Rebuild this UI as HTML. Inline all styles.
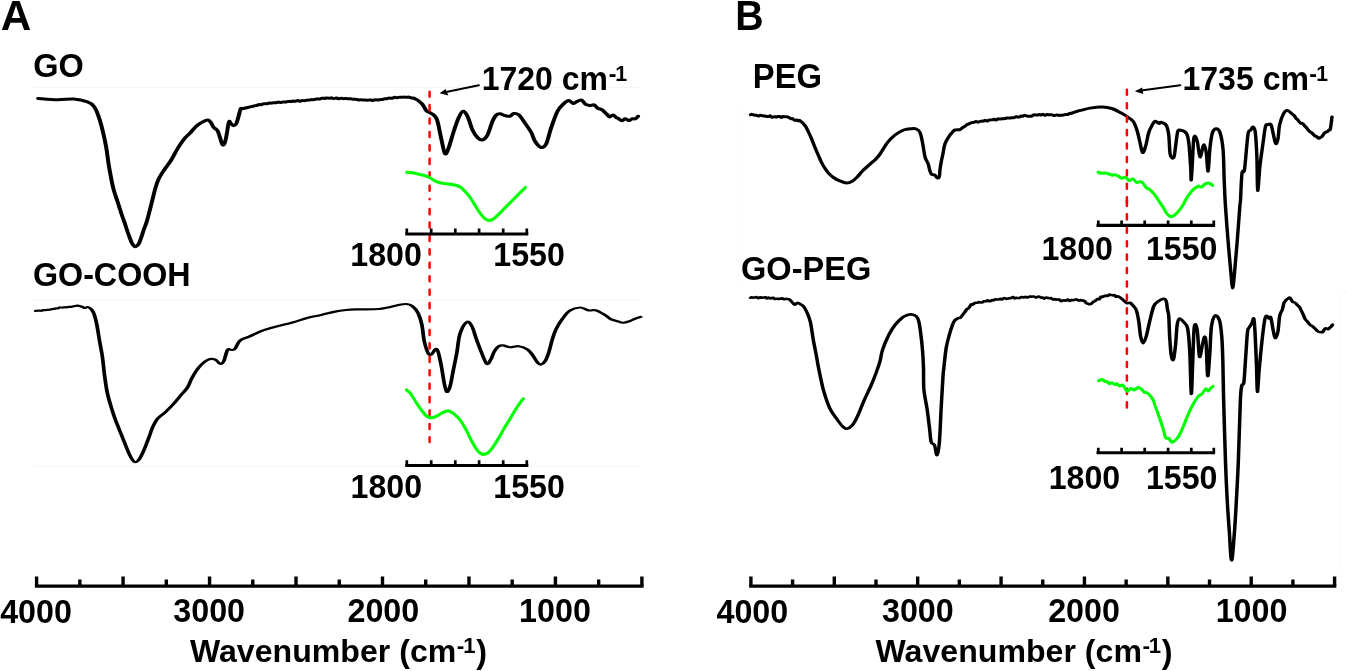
<!DOCTYPE html>
<html><head><meta charset="utf-8"><title>FTIR spectra</title>
<style>html,body{margin:0;padding:0;background:#fff;}body{width:1347px;height:671px;overflow:hidden;}svg{display:block;}</style></head><body>
<svg width="1347" height="671" viewBox="0 0 1347 671">
<rect width="1347" height="671" fill="#fff"/>
<line x1="35" y1="87.5" x2="641" y2="87.5" stroke="#f6f6f6" stroke-width="1"/>
<line x1="33" y1="300.3" x2="641" y2="300.3" stroke="#f6f6f6" stroke-width="1"/>
<line x1="33" y1="466.1" x2="641.6" y2="466.1" stroke="#f6f6f6" stroke-width="1"/>
<line x1="741.7" y1="100" x2="741.7" y2="287.6" stroke="#fbfbfb" stroke-width="1"/>
<line x1="1340.6" y1="291.9" x2="1340.6" y2="572.6" stroke="#f9f9f9" stroke-width="1"/>
<line x1="1340.6" y1="291.9" x2="1347" y2="291.9" stroke="#f9f9f9" stroke-width="1"/>
<path d="M34.9,586.1L643.6,586.1" stroke="#000" stroke-width="3.2" fill="none" stroke-linecap="butt"/>
<path d="M36.6,586.1V576.6M79.84,586.1V579.4M123.07,586.1V576.6M166.31,586.1V579.4M209.54,586.1V576.6M252.78,586.1V579.4M296.01,586.1V576.6M339.25,586.1V579.4M382.49,586.1V576.6M425.72,586.1V579.4M468.96,586.1V576.6M512.19,586.1V579.4M555.43,586.1V576.6M598.66,586.1V579.4M641.9,586.1V576.6" stroke="#000" stroke-width="3.4" fill="none"/>
<path d="M749.2,586.1L1336.3,586.1" stroke="#000" stroke-width="3.2" fill="none" stroke-linecap="butt"/>
<path d="M750.9,586.1V576.6M792.59,586.1V579.4M834.29,586.1V576.6M875.98,586.1V579.4M917.67,586.1V576.6M959.36,586.1V579.4M1001.06,586.1V576.6M1042.75,586.1V579.4M1084.44,586.1V576.6M1126.14,586.1V579.4M1167.83,586.1V576.6M1209.52,586.1V579.4M1251.21,586.1V576.6M1292.91,586.1V579.4M1334.6,586.1V576.6" stroke="#000" stroke-width="3.4" fill="none"/>
<path transform="scale(1.33,1)" d="M28.65,98.5C31.08,98.71 38.77,99.67 43.23,99.75C47.7,99.83 51.69,98.64 55.45,99C59.21,99.36 63.28,100.69 65.79,101.9C68.3,103.11 69.16,104.07 70.49,106.25C71.82,108.43 72.66,111.04 73.76,115C74.86,118.96 76.05,124.58 77.07,130C78.09,135.42 79.1,141.67 79.89,147.5C80.67,153.33 80.91,158.33 81.77,165C82.63,171.67 83.94,181.42 85.04,187.5C86.13,193.58 87.29,197.08 88.35,201.5C89.4,205.92 90.48,210.52 91.35,214C92.23,217.48 92.88,219.57 93.61,222.4C94.34,225.23 95.08,228.52 95.71,231C96.35,233.48 96.9,235.38 97.44,237.3C97.98,239.22 98.46,241.13 98.95,242.5C99.44,243.87 99.92,244.78 100.38,245.5C100.83,246.22 101.19,246.78 101.65,246.8C102.12,246.82 102.68,246.2 103.16,245.6C103.63,245 104,244.58 104.51,243.2C105.03,241.82 105.61,239.67 106.24,237.3C106.87,234.93 107.62,231.48 108.27,229C108.92,226.52 109.45,225.4 110.15,222.4C110.85,219.4 111.73,214.82 112.48,211C113.23,207.18 113.95,203.25 114.66,199.5C115.38,195.75 115.98,191.96 116.77,188.5C117.55,185.04 118.15,182.04 119.36,178.75C120.58,175.46 122.49,171.88 124.06,168.75C125.63,165.62 127.19,163.33 128.76,160C130.33,156.67 131.89,152.18 133.46,148.75C135.03,145.32 136.59,142.01 138.16,139.4C139.72,136.79 141.29,135.29 142.86,133.1C144.42,130.91 145.99,128.12 147.56,126.25C149.12,124.38 150.77,122.94 152.26,121.9C153.74,120.86 155.37,119.8 156.47,120C157.56,120.2 158.13,121.85 158.83,123.1C159.54,124.35 159.93,126.25 160.71,127.5C161.5,128.75 162.75,128.93 163.53,130.6C164.32,132.27 164.76,135.1 165.41,137.5C166.07,139.9 166.78,144.58 167.48,145C168.18,145.42 168.87,143.75 169.62,140C170.38,136.25 171.37,125.32 171.99,122.5C172.62,119.68 172.84,122.58 173.38,123.1C173.93,123.62 174.56,125.49 175.26,125.6C175.97,125.71 176.92,125.42 177.63,123.75C178.34,122.08 178.97,118.1 179.51,115.6C180.06,113.1 180.43,109.89 180.9,108.75C181.37,107.61 181.15,109.06 182.33,108.75C183.51,108.44 186.87,107.25 187.97,106.9C189.07,106.55 188.61,106.78 188.96,106.68C189.31,106.58 189.67,106.43 190.04,106.29C190.42,106.16 190.81,105.98 191.21,105.86C191.61,105.75 192.02,105.73 192.44,105.6C192.86,105.48 193.29,105.29 193.73,105.12C194.17,104.94 194.62,104.62 195.07,104.54C195.52,104.47 195.98,104.79 196.44,104.69C196.91,104.59 197.37,104.09 197.84,103.94C198.31,103.78 198.82,103.77 199.25,103.75C199.68,103.73 200.03,103.89 200.42,103.82C200.82,103.75 201.23,103.46 201.64,103.32C202.05,103.17 202.47,102.98 202.89,102.94C203.31,102.91 203.74,103.18 204.17,103.13C204.6,103.08 205.03,102.7 205.47,102.64C205.9,102.58 206.34,102.77 206.78,102.76C207.22,102.74 207.66,102.69 208.1,102.56C208.54,102.43 208.98,101.97 209.42,101.97C209.87,101.96 210.31,102.49 210.74,102.52C211.18,102.54 211.62,102.22 212.05,102.11C212.49,102.01 212.91,101.91 213.35,101.9C213.78,101.89 214.21,102.1 214.65,102.06C215.08,102.01 215.53,101.76 215.97,101.64C216.42,101.52 216.87,101.36 217.32,101.35C217.77,101.33 218.22,101.59 218.67,101.55C219.12,101.5 219.57,101.11 220.02,101.07C220.47,101.03 220.91,101.32 221.35,101.33C221.79,101.34 222.23,101.26 222.66,101.13C223.09,101 223.52,100.52 223.94,100.52C224.35,100.52 224.77,101.08 225.17,101.13C225.57,101.19 225.96,100.96 226.34,100.87C226.72,100.79 226.99,100.64 227.44,100.6C227.89,100.56 228.53,100.7 229.04,100.64C229.55,100.58 230.03,100.35 230.5,100.24C230.97,100.13 231.41,100.01 231.85,99.99C232.29,99.96 232.71,100.15 233.13,100.07C233.55,99.99 233.95,99.55 234.36,99.5C234.77,99.44 235.18,99.76 235.59,99.74C236,99.72 236.43,99.55 236.84,99.4C237.26,99.25 237.68,98.94 238.08,98.87C238.49,98.8 238.88,98.96 239.27,98.99C239.66,99.03 240.05,99.15 240.43,99.06C240.82,98.98 241.2,98.66 241.59,98.49C241.98,98.32 242.37,98.05 242.77,98.05C243.18,98.04 243.58,98.46 244,98.46C244.42,98.47 244.88,98.17 245.3,98.1C245.72,98.03 246.1,98.01 246.52,98.03C246.94,98.05 247.38,98.25 247.82,98.22C248.26,98.19 248.71,97.8 249.16,97.85C249.62,97.89 250.07,98.38 250.53,98.46C250.98,98.55 251.44,98.44 251.89,98.36C252.33,98.27 252.78,97.88 253.21,97.95C253.64,98.02 254.06,98.69 254.47,98.78C254.87,98.87 255.21,98.59 255.64,98.5C256.07,98.41 256.59,98.2 257.03,98.24C257.47,98.28 257.88,98.69 258.28,98.74C258.69,98.8 259.07,98.57 259.46,98.54C259.85,98.52 260.22,98.57 260.62,98.6C261.01,98.63 261.41,98.7 261.83,98.72C262.25,98.75 262.73,98.73 263.16,98.75C263.58,98.77 263.97,98.75 264.39,98.85C264.8,98.95 265.22,99.29 265.65,99.33C266.08,99.38 266.51,99.14 266.96,99.14C267.4,99.14 267.84,99.18 268.3,99.32C268.75,99.46 269.21,99.91 269.68,99.99C270.15,100.06 270.62,99.75 271.1,99.75C271.58,99.76 272.11,99.94 272.56,100C273,100.06 273.34,100.1 273.75,100.12C274.16,100.14 274.58,100.07 275.01,100.09C275.44,100.11 275.88,100.24 276.32,100.23C276.76,100.23 277.2,100.07 277.65,100.05C278.09,100.03 278.54,100.04 278.98,100.1C279.42,100.17 279.86,100.46 280.28,100.44C280.71,100.42 281.14,100.11 281.54,100C281.95,99.88 282.35,99.77 282.74,99.77C283.12,99.77 283.41,99.99 283.83,100C284.26,100.01 284.83,99.91 285.28,99.81C285.74,99.71 286.15,99.45 286.55,99.4C286.95,99.35 287.33,99.61 287.71,99.52C288.09,99.43 288.46,99 288.85,98.88C289.23,98.77 289.62,98.91 290.03,98.85C290.45,98.79 290.92,98.65 291.35,98.5C291.78,98.35 292.18,98.02 292.61,97.98C293.05,97.94 293.5,98.25 293.96,98.26C294.41,98.27 294.88,98.2 295.35,98.04C295.82,97.87 296.29,97.34 296.76,97.29C297.22,97.24 297.69,97.72 298.15,97.74C298.6,97.75 299.06,97.46 299.49,97.38C299.93,97.3 300.31,97.26 300.75,97.25C301.19,97.24 301.68,97.37 302.14,97.32C302.59,97.27 303.03,96.95 303.47,96.95C303.9,96.94 304.33,97.23 304.75,97.29C305.16,97.36 305.57,97.37 305.97,97.32C306.37,97.28 306.77,96.98 307.15,97.01C307.53,97.04 307.82,97.32 308.27,97.5C308.72,97.68 309.35,98.01 309.86,98.12C310.37,98.23 310.86,97.94 311.33,98.15C311.8,98.36 312.25,99.07 312.68,99.37C313.11,99.68 313.08,99.16 313.91,100C314.74,100.84 316.57,102.63 317.67,104.4C318.77,106.17 319.55,109.21 320.49,110.6C321.43,111.99 322.29,111.92 323.31,112.75C324.33,113.58 325.68,114.18 326.62,115.6C327.56,117.02 328.09,117.39 328.95,121.25C329.81,125.11 330.83,133.33 331.77,138.75C332.71,144.17 333.65,152.29 334.59,153.75C335.53,155.21 336.31,151.25 337.41,147.5C338.5,143.75 339.91,136.25 341.17,131.25C342.42,126.25 343.75,120.83 344.92,117.5C346.1,114.17 347.1,111.46 348.2,111.25C349.29,111.04 350.33,113.12 351.5,116.25C352.68,119.38 354.01,126.46 355.26,130C356.52,133.54 357.77,135.83 359.02,137.5C360.28,139.17 361.53,140.42 362.78,140C364.04,139.58 365.29,138.12 366.54,135C367.79,131.88 369.2,124.58 370.3,121.25C371.4,117.92 372.18,116.25 373.12,115C374.06,113.75 374.84,113.65 375.94,113.75C377.04,113.85 378.45,115.18 379.7,115.6C380.95,116.02 382.36,116.6 383.46,116.25C384.56,115.9 385.18,113.75 386.28,113.5C387.37,113.25 388.78,113.46 390.04,114.75C391.29,116.04 392.23,118.29 393.8,121.25C395.36,124.21 398.03,129.17 399.44,132.5C400.85,135.83 401,138.75 402.26,141.25C403.51,143.75 405.55,147.08 406.95,147.5C408.36,147.92 409.46,147.08 410.71,143.75C411.97,140.42 413.06,132.92 414.47,127.5C415.88,122.08 417.61,115.21 419.17,111.25C420.74,107.29 422.46,105.53 423.87,103.75C425.28,101.97 426.46,100.64 427.63,100.6C428.8,100.56 429.96,103.28 430.9,103.5C431.84,103.72 432.25,102.48 433.27,101.9C434.29,101.32 435.93,99.69 437.03,100C438.13,100.31 439.18,102.95 439.85,103.75C440.52,104.55 440.63,104.54 441.05,104.78C441.47,105.02 441.93,105.03 442.35,105.16C442.78,105.3 443.11,105.63 443.61,105.6C444.11,105.57 444.8,105.07 445.35,104.97C445.9,104.87 446.27,104.48 446.92,105C447.57,105.52 448.63,107.46 449.25,108.1C449.87,108.74 450.16,108.61 450.63,108.83C451.1,109.05 451.6,109.11 452.07,109.4C452.53,109.69 452.95,110.04 453.42,110.55C453.89,111.07 454.44,111.92 454.89,112.5C455.34,113.08 455.69,113.43 456.12,114.01C456.55,114.59 457.04,115.48 457.46,115.96C457.88,116.44 458.06,117.06 458.65,116.9C459.23,116.74 460.19,114.9 460.98,115C461.76,115.1 462.7,116.93 463.35,117.5C463.99,118.07 464.3,117.98 464.84,118.41C465.39,118.84 466.07,119.72 466.6,120.08C467.13,120.45 467.49,120.82 468.05,120.6C468.6,120.38 469.39,118.94 469.92,118.75C470.46,118.56 470.81,119.18 471.28,119.48C471.75,119.79 472.26,120.57 472.74,120.6C473.23,120.63 473.71,119.98 474.18,119.67C474.65,119.36 474.95,118.9 475.56,118.75C476.18,118.6 477.19,119.17 477.89,118.75C478.6,118.33 479.46,116.67 479.77,116.25" stroke="#000" stroke-width="3" fill="none" stroke-linejoin="round" stroke-linecap="round"/>
<path transform="scale(1.7,1)" d="M20.94,310.9C21.04,310.9 21.31,310.92 21.54,310.88C21.77,310.84 22.05,310.74 22.34,310.68C22.63,310.63 22.96,310.56 23.29,310.57C23.63,310.58 23.99,310.86 24.35,310.76C24.71,310.67 25.09,310.09 25.46,310C25.84,309.9 26.22,310.22 26.59,310.21C26.96,310.2 27.33,310.02 27.67,309.94C28.02,309.86 28.33,309.83 28.68,309.75C29.02,309.67 29.4,309.58 29.76,309.45C30.12,309.32 30.49,309.06 30.85,308.97C31.21,308.88 31.57,309.01 31.93,308.9C32.29,308.79 32.65,308.42 33,308.32C33.35,308.22 33.7,308.45 34.05,308.32C34.39,308.18 34.73,307.64 35.06,307.5C35.39,307.37 35.69,307.5 36.03,307.5C36.37,307.5 36.76,307.59 37.12,307.52C37.49,307.45 37.84,307.09 38.19,307.07C38.54,307.04 38.89,307.42 39.22,307.38C39.56,307.34 39.88,306.89 40.19,306.82C40.51,306.74 40.81,306.91 41.1,306.93C41.38,306.94 41.55,307.01 41.91,306.9C42.27,306.79 42.84,306.4 43.24,306.26C43.63,306.13 43.95,306.19 44.28,306.08C44.61,305.97 44.85,305.62 45.24,305.6C45.62,305.58 46.16,305.83 46.58,305.98C47.01,306.13 47.4,306.27 47.79,306.5C48.19,306.73 48.58,307.12 48.94,307.35C49.31,307.59 49.52,307.94 50,307.9C50.48,307.86 51.15,306.75 51.82,307.1C52.5,307.45 53.44,308.68 54.06,310C54.68,311.32 55.04,312.5 55.53,315C56.02,317.5 56.51,320.83 57,325C57.49,329.17 57.92,334.58 58.47,340C59.02,345.42 59.79,351.67 60.29,357.5C60.79,363.33 60.98,368.96 61.47,375C61.96,381.04 62.45,387.71 63.24,393.75C64.02,399.79 65.39,406.88 66.18,411.25C66.96,415.62 67.04,415.96 67.94,420C68.84,424.04 70.37,430.33 71.59,435.5C72.8,440.67 74.25,447.12 75.24,451C76.23,454.88 76.8,456.93 77.53,458.8C78.25,460.67 78.83,462.2 79.59,462.2C80.34,462.2 81.19,460.92 82.06,458.8C82.93,456.68 83.83,453.38 84.82,449.5C85.81,445.62 87.19,439.17 88,435.5C88.81,431.83 88.93,430.29 89.71,427.5C90.48,424.71 91.42,421.25 92.65,418.75C93.87,416.25 95.59,414.79 97.06,412.5C98.53,410.21 100,407.71 101.47,405C102.94,402.29 104.41,399.17 105.88,396.25C107.35,393.33 109.13,390.52 110.29,387.5C111.46,384.48 111.78,381.43 112.88,378.1C113.99,374.77 115.38,370.52 116.91,367.5C118.44,364.48 120.47,361.35 122.06,360C123.65,358.65 125.25,358.77 126.47,359.4C127.7,360.02 128.55,363.44 129.41,363.75C130.27,364.06 130.88,363.54 131.62,361.25C132.35,358.96 133.02,351.88 133.82,350C134.62,348.12 135.68,350.21 136.41,350C137.15,349.79 137.44,350.32 138.24,348.75C139.03,347.18 139.71,342.68 141.18,340.6C142.65,338.52 144.85,337.92 147.06,336.25C149.26,334.58 151.72,332.27 154.41,330.6C157.11,328.93 160.29,327.6 163.24,326.25C166.18,324.9 169,323.96 172.06,322.5C175.12,321.04 178.8,318.75 181.62,317.5C184.44,316.25 186.52,315.93 188.97,315C191.42,314.07 193.87,312.73 196.32,311.9C198.77,311.07 201.32,310.42 203.68,310C206.03,309.58 208.85,309.5 210.44,309.4C212.03,309.3 211.18,309.47 213.24,309.4C215.29,309.33 220.34,309.32 222.79,309C225.25,308.68 226.1,308.12 227.94,307.5C229.78,306.88 231.99,305.83 233.82,305.25C235.66,304.67 237.5,303.83 238.97,304C240.44,304.17 241.49,304.73 242.65,306.25C243.81,307.77 245.02,309.98 245.94,313.1C246.86,316.23 247.6,320.52 248.18,325C248.75,329.48 248.94,335.87 249.41,340C249.88,344.13 250.52,347.42 251,349.8C251.48,352.18 251.81,353.55 252.29,354.3C252.77,355.05 253.22,355.2 253.88,354.3C254.55,353.4 255.64,349.2 256.29,348.9C256.95,348.6 257.25,349.52 257.82,352.5C258.39,355.48 259.13,361.73 259.71,366.8C260.28,371.87 260.77,378.72 261.29,382.9C261.81,387.08 262.25,391.3 262.82,391.9C263.39,392.5 264.09,389.93 264.71,386.5C265.32,383.07 265.87,376.82 266.53,371.3C267.19,365.78 267.97,359.66 268.65,353.4C269.32,347.14 269.59,339 270.59,333.75C271.59,328.5 273.48,323.15 274.65,321.9C275.81,320.65 276.67,323.44 277.59,326.25C278.5,329.06 279.27,334.68 280.15,338.75C281.02,342.82 281.81,346.54 282.82,350.7C283.84,354.86 285.26,362.2 286.24,363.7C287.21,365.2 287.9,361.72 288.65,359.7C289.39,357.68 289.92,353.83 290.71,351.6C291.49,349.37 292.47,347.33 293.35,346.3C294.24,345.27 294.89,345.24 296,345.4C297.11,345.56 298.48,347.11 300,347.25C301.52,347.39 303.43,345.89 305.15,346.25C306.86,346.61 308.95,347.94 310.29,349.4C311.64,350.86 312.25,352.82 313.24,355C314.22,357.18 315.38,360.9 316.18,362.5C316.97,364.1 317.26,364.81 318,364.6C318.74,364.39 319.79,363.27 320.59,361.25C321.39,359.23 322.06,356.25 322.79,352.5C323.53,348.75 324.26,342.71 325,338.75C325.74,334.79 326.23,332.08 327.21,328.75C328.19,325.42 329.53,321.77 330.88,318.75C332.23,315.73 333.58,312.48 335.29,310.6C337.01,308.73 339.34,307.53 341.18,307.5C343.01,307.47 344.79,309.94 346.32,310.4C347.85,310.86 348.76,309.48 350.35,310.25C351.95,311.02 354.35,313.48 355.88,315C357.42,316.52 358.33,318.36 359.56,319.4C360.78,320.44 362.07,320.69 363.24,321.25C364.4,321.81 365.3,322.79 366.53,322.75C367.75,322.71 369.42,321.67 370.59,321C371.75,320.33 372.49,319.43 373.53,318.75C374.57,318.07 376.27,317.21 376.82,316.9" stroke="#000" stroke-width="2.2" fill="none" stroke-linejoin="round" stroke-linecap="round"/>
<path transform="scale(1.15,1)" d="M652.7,114.75C652.84,114.68 653.24,114.34 653.58,114.33C653.93,114.32 654.33,114.54 654.76,114.7C655.2,114.86 655.68,115.21 656.17,115.29C656.67,115.36 657.2,115.03 657.73,115.16C658.27,115.29 658.83,116.04 659.38,116.06C659.93,116.08 660.5,115.35 661.04,115.28C661.59,115.21 662.14,115.53 662.65,115.65C663.16,115.77 663.65,115.93 664.13,116C664.61,116.07 665.06,116.01 665.52,116.09C665.99,116.17 666.45,116.41 666.91,116.49C667.38,116.57 667.84,116.7 668.3,116.56C668.75,116.43 669.21,115.61 669.67,115.69C670.12,115.77 670.58,116.84 671.03,117.06C671.48,117.27 671.93,117.06 672.37,117C672.82,116.93 673.26,116.68 673.7,116.66C674.14,116.65 674.54,116.91 675,116.9C675.46,116.89 675.99,116.66 676.48,116.59C676.98,116.52 677.48,116.32 677.97,116.48C678.46,116.65 678.96,117.56 679.44,117.55C679.92,117.54 680.41,116.59 680.88,116.44C681.34,116.29 681.81,116.62 682.26,116.68C682.71,116.73 683.14,116.75 683.57,116.79C683.99,116.83 684.32,116.73 684.78,116.9C685.24,117.07 685.84,117.48 686.33,117.78C686.82,118.08 687.28,118.56 687.73,118.7C688.18,118.84 688.6,118.48 689.01,118.63C689.42,118.79 689.81,119.35 690.19,119.64C690.57,119.93 690.85,120.34 691.3,120.4C691.76,120.46 692.42,119.92 692.91,120.02C693.41,120.12 693.83,120.9 694.28,121C694.74,121.09 694.7,119.83 695.65,120.6C696.6,121.37 698.83,123.82 700,125.6C701.17,127.38 701.79,129.17 702.7,131.25C703.6,133.33 704.43,135.39 705.43,138.1C706.43,140.81 707.61,144.47 708.7,147.5C709.78,150.53 711,153.75 711.96,156.25C712.91,158.75 713.57,160.53 714.43,162.5C715.3,164.47 716.17,166.33 717.17,168.1C718.17,169.87 719.17,171.53 720.43,173.1C721.7,174.67 723.15,176.2 724.78,177.5C726.41,178.8 728.32,179.97 730.22,180.9C732.12,181.83 734.36,183.04 736.17,183.1C737.99,183.16 739.54,182.28 741.09,181.25C742.63,180.22 743.89,178.68 745.43,176.9C746.98,175.12 748.54,172.68 750.35,170.6C752.16,168.52 754.49,166.27 756.3,164.4C758.12,162.53 759.77,161.07 761.22,159.4C762.67,157.73 763.25,157.22 765,154.4C766.75,151.58 769.53,145.73 771.74,142.5C773.95,139.27 775.91,137.08 778.26,135C780.62,132.92 783.51,131.04 785.87,130C788.22,128.96 790.58,128.92 792.39,128.75C794.2,128.58 795.47,128.38 796.74,129C798.01,129.62 799.09,130.25 800,132.5C800.91,134.75 801.43,138.38 802.17,142.5C802.91,146.62 803.62,153.67 804.43,157.2C805.25,160.73 806.35,161.42 807.04,163.7C807.74,165.98 808.09,169.12 808.61,170.9C809.13,172.68 809.48,173.72 810.17,174.4C810.87,175.08 811.93,174.4 812.78,175C813.64,175.6 814.62,177.8 815.3,178C815.99,178.2 816.52,177.58 816.87,176.2C817.22,174.82 817.13,172.08 817.39,169.7C817.65,167.32 818,164.58 818.43,161.9C818.87,159.22 819.45,156.62 820,153.6C820.55,150.57 820.72,146.85 821.74,143.75C822.75,140.65 825.11,136.78 826.09,135C827.06,133.22 827.08,133.74 827.58,133.07C828.07,132.4 828.59,131.49 829.07,130.98C829.54,130.47 829.95,130.18 830.43,130C830.92,129.82 831.45,129.91 832,129.87C832.54,129.83 833.14,129.86 833.7,129.75C834.25,129.64 834.76,129.62 835.35,129.22C835.94,128.82 836.61,127.85 837.24,127.35C837.87,126.86 838.53,126.71 839.13,126.25C839.73,125.79 840.28,124.96 840.86,124.57C841.44,124.19 841.98,124.24 842.59,123.94C843.21,123.63 844.01,123 844.57,122.75C845.12,122.5 845.44,122.54 845.9,122.45C846.35,122.36 846.81,122.36 847.3,122.19C847.78,122.02 848.27,121.45 848.79,121.43C849.31,121.42 849.84,122.11 850.41,122.13C850.97,122.14 851.65,121.67 852.17,121.5C852.7,121.33 853.08,121.19 853.56,121.13C854.03,121.07 854.53,121.3 855.04,121.16C855.55,121.01 856.08,120.27 856.6,120.26C857.13,120.25 857.67,121.13 858.21,121.09C858.75,121.06 859.3,120.24 859.84,120.04C860.38,119.85 860.93,119.96 861.46,119.91C862,119.86 862.52,119.85 863.04,119.75C863.57,119.65 864.08,119.26 864.6,119.3C865.11,119.34 865.63,120.05 866.15,119.97C866.67,119.89 867.18,119 867.7,118.84C868.22,118.68 868.74,119.01 869.25,119.01C869.77,119.01 870.29,118.89 870.81,118.83C871.33,118.77 871.84,118.73 872.36,118.67C872.88,118.62 873.39,118.62 873.91,118.5C874.44,118.38 874.96,118.05 875.5,117.97C876.04,117.89 876.58,118.01 877.13,118C877.68,117.98 878.23,117.95 878.77,117.89C879.32,117.84 879.86,117.72 880.39,117.66C880.92,117.61 881.45,117.7 881.96,117.55C882.46,117.39 882.96,116.85 883.43,116.75C883.9,116.64 884.27,116.87 884.78,116.9C885.29,116.93 885.95,117.08 886.49,116.94C887.03,116.8 887.54,116.17 888.03,116.06C888.52,115.96 888.98,116.44 889.42,116.32C889.87,116.2 890.28,115.47 890.68,115.35C891.08,115.23 891.3,115.44 891.83,115.6C892.35,115.76 893.2,116.21 893.84,116.32C894.48,116.42 895.1,116.28 895.65,116.25C896.2,116.22 896.62,116.38 897.14,116.16C897.67,115.94 898.16,115.12 898.81,114.93C899.47,114.74 900.49,115 901.09,115C901.68,115 901.91,115 902.37,114.94C902.84,114.87 903.34,114.61 903.86,114.6C904.38,114.6 904.93,114.94 905.48,114.9C906.03,114.86 906.6,114.29 907.17,114.37C907.73,114.44 908.3,115.35 908.85,115.36C909.4,115.36 909.95,114.51 910.47,114.41C910.99,114.3 911.44,114.68 911.96,114.75C912.47,114.82 913.03,114.83 913.56,114.85C914.08,114.86 914.59,114.73 915.1,114.85C915.6,114.97 916.09,115.51 916.58,115.56C917.06,115.61 917.53,115.25 918,115.15C918.46,115.04 918.91,114.89 919.35,114.93C919.8,114.97 920.14,115.36 920.65,115.4C921.17,115.44 921.88,115.19 922.46,115.17C923.03,115.16 923.57,115.38 924.1,115.3C924.64,115.21 925.14,114.82 925.66,114.67C926.17,114.52 926.67,114.42 927.17,114.4C927.68,114.38 928.19,114.69 928.68,114.52C929.18,114.36 929.67,113.59 930.15,113.4C930.63,113.21 931.09,113.51 931.54,113.4C931.99,113.29 931.92,113.11 932.83,112.75C933.73,112.39 934.46,112.03 936.96,111.25C939.46,110.47 944.2,108.82 947.83,108.1C951.45,107.38 955.43,106.79 958.7,106.9C961.96,107.01 964.67,107.72 967.39,108.75C970.11,109.78 972.83,111.74 975,113.1C977.17,114.46 978.72,115.54 980.43,116.9C982.15,118.26 983.94,119.07 985.3,121.25C986.67,123.43 987.61,126.46 988.61,130C989.61,133.54 990.49,138.75 991.3,142.5C992.12,146.25 992.67,151.88 993.48,152.5C994.29,153.12 995.27,149.58 996.17,146.25C997.08,142.92 997.91,136.14 998.91,132.5C999.91,128.86 1001.28,126.25 1002.17,124.4C1003.07,122.55 1003.57,121.73 1004.26,121.4C1004.96,121.07 1005.72,122.03 1006.35,122.4C1006.97,122.77 1007.46,123.63 1008,123.6C1008.54,123.57 1008.54,121.92 1009.57,122.2C1010.59,122.48 1013.01,123.17 1014.13,125.3C1015.25,127.43 1015.73,130.13 1016.3,135C1016.88,139.87 1016.84,150.75 1017.57,154.5C1018.29,158.25 1019.87,158.88 1020.65,157.5C1021.43,156.12 1021.72,150.42 1022.26,146.25C1022.8,142.08 1023.36,135.21 1023.91,132.5C1024.46,129.79 1024.3,129.9 1025.57,130C1026.83,130.1 1030.17,131.02 1031.52,133.1C1032.88,135.18 1033.07,136.97 1033.7,142.5C1034.33,148.03 1034.94,160 1035.3,166.25C1035.67,172.5 1035.59,181.04 1035.87,180C1036.14,178.96 1036.59,166.88 1036.96,160C1037.32,153.12 1037.59,142.6 1038.04,138.75C1038.49,134.9 1039.11,136.28 1039.65,136.9C1040.2,137.53 1040.67,139.17 1041.3,142.5C1041.94,145.83 1042.67,156.28 1043.48,156.9C1044.29,157.53 1045.54,148.13 1046.17,146.25C1046.81,144.37 1046.85,144.56 1047.3,145.6C1047.76,146.64 1048.38,148.22 1048.91,152.5C1049.45,156.78 1049.98,172.08 1050.52,171.25C1051.07,170.42 1051.54,153.96 1052.17,147.5C1052.81,141.04 1053.44,135.62 1054.35,132.5C1055.25,129.38 1056.52,128.75 1057.61,128.75C1058.7,128.75 1059.88,128.96 1060.87,132.5C1061.86,136.04 1062.96,142.08 1063.57,150C1064.17,157.92 1064.17,170.53 1064.52,180C1064.87,189.47 1065.07,196.38 1065.65,206.8C1066.23,217.22 1067.22,231.48 1068,242.5C1068.78,253.52 1069.7,265.32 1070.35,272.9C1071,280.48 1071.39,288 1071.91,288C1072.43,288 1072.84,280.48 1073.48,272.9C1074.12,265.32 1074.97,253.52 1075.74,242.5C1076.51,231.48 1077.59,213.88 1078.09,206.8C1078.58,199.72 1078.38,205.6 1078.7,200C1079.01,194.4 1079.43,178.18 1080,173.2C1080.57,168.22 1081.41,174.53 1082.09,170.1C1082.77,165.67 1083.52,152.87 1084.09,146.6C1084.65,140.33 1084.91,135.23 1085.48,132.5C1086.04,129.77 1086.8,131.1 1087.48,130.2C1088.16,129.3 1088.88,126.72 1089.57,127.1C1090.25,127.48 1091,127.42 1091.57,132.5C1092.13,137.58 1092.61,147.95 1092.96,157.6C1093.3,167.25 1093.2,189.1 1093.65,190.4C1094.1,191.7 1094.86,173.48 1095.65,165.4C1096.45,157.32 1097.64,148.42 1098.43,141.9C1099.23,135.38 1099.77,129.17 1100.43,126.3C1101.1,123.43 1101.64,124.97 1102.43,124.7C1103.23,124.43 1104.42,123.13 1105.22,124.7C1106.01,126.27 1106.54,130.97 1107.22,134.1C1107.9,137.23 1108.62,142.72 1109.3,143.5C1109.99,144.28 1110.74,141.93 1111.3,138.8C1111.87,135.67 1111.9,128.87 1112.7,124.7C1113.49,120.53 1114.96,116.15 1116.09,113.8C1117.22,111.45 1118.12,110.47 1119.48,110.6C1120.84,110.73 1123.24,113.74 1124.26,114.6C1125.28,115.46 1125.14,115.15 1125.6,115.78C1126.05,116.4 1126.54,117.69 1127,118.37C1127.46,119.04 1127.94,119.28 1128.38,119.82C1128.82,120.36 1129.21,121.04 1129.65,121.6C1130.1,122.16 1130.61,122.85 1131.06,123.15C1131.5,123.45 1131.88,123.15 1132.32,123.41C1132.77,123.67 1133.3,124.18 1133.74,124.7C1134.18,125.22 1134.53,126.02 1134.95,126.55C1135.36,127.09 1135.78,127.3 1136.22,127.9C1136.67,128.5 1137.13,129.52 1137.63,130.17C1138.12,130.82 1138.74,131.39 1139.22,131.8C1139.69,132.21 1140.02,132.23 1140.47,132.63C1140.92,133.03 1141.41,133.63 1141.89,134.19C1142.38,134.75 1142.9,135.61 1143.39,136.01C1143.89,136.4 1144.4,136.2 1144.87,136.54C1145.34,136.87 1145.81,137.76 1146.23,138.01C1146.65,138.25 1146.93,138.17 1147.39,138C1147.85,137.83 1148.54,137.37 1149.01,136.96C1149.47,136.55 1149.76,136.16 1150.17,135.55C1150.58,134.94 1151.04,133.87 1151.48,133.3C1151.92,132.73 1152.35,132.38 1152.83,132.1C1153.31,131.82 1153.85,132 1154.34,131.62C1154.83,131.25 1155.35,130.34 1155.77,129.84C1156.19,129.33 1156.45,130.76 1156.87,128.6C1157.28,126.44 1158.03,118.85 1158.26,116.9" stroke="#000" stroke-width="3" fill="none" stroke-linejoin="round" stroke-linecap="round"/>
<path transform="scale(1.35,1)" d="M556,297.75C556.13,297.66 556.46,297.25 556.75,297.23C557.05,297.22 557.39,297.61 557.76,297.66C558.13,297.7 558.54,297.58 558.96,297.5C559.38,297.41 559.84,297.04 560.29,297.14C560.75,297.25 561.23,298.13 561.7,298.15C562.17,298.17 562.65,297.33 563.11,297.25C563.58,297.17 564.04,297.64 564.48,297.68C564.92,297.72 565.33,297.57 565.74,297.5C566.15,297.43 566.53,297.13 566.93,297.29C567.33,297.45 567.73,298.43 568.12,298.49C568.52,298.55 568.92,297.69 569.31,297.67C569.71,297.65 570.1,298.27 570.5,298.34C570.89,298.42 571.28,298.22 571.66,298.13C572.04,298.04 572.43,297.66 572.8,297.81C573.18,297.96 573.55,298.87 573.92,299.02C574.28,299.18 574.58,298.78 575,298.75C575.42,298.72 575.95,298.83 576.43,298.84C576.91,298.85 577.4,298.91 577.87,298.82C578.34,298.73 578.81,298.23 579.26,298.31C579.71,298.38 580.15,299.18 580.57,299.27C580.98,299.36 581.38,298.88 581.74,298.84C582.1,298.79 582.27,298.91 582.74,299C583.21,299.09 584.04,299.06 584.55,299.36C585.05,299.66 585.3,300.17 585.78,300.8C586.26,301.43 586.89,302.51 587.41,303.16C587.93,303.81 588.35,304.74 588.89,304.7C589.43,304.66 589.93,302.92 590.67,302.9C591.41,302.88 592.52,303.92 593.33,304.6C594.15,305.28 594.75,305.5 595.56,307C596.36,308.5 597.35,311.02 598.15,313.6C598.95,316.18 599.68,318.31 600.37,322.5C601.06,326.69 601.59,333.33 602.3,338.75C603.01,344.17 604.02,350.62 604.63,355C605.23,359.38 605.46,361.67 605.93,365C606.39,368.33 606.7,370.62 607.41,375C608.12,379.38 608.95,385.62 610.19,391.25C611.42,396.88 613.12,403.96 614.81,408.75C616.51,413.54 618.83,417.08 620.37,420C621.91,422.92 622.91,424.79 624.07,426.25C625.23,427.71 626.1,428.96 627.33,428.75C628.57,428.54 630.17,427.08 631.48,425C632.79,422.92 633.8,420.21 635.19,416.25C636.57,412.29 638.12,406.46 639.81,401.25C641.51,396.04 643.83,389.79 645.37,385C646.91,380.21 647.99,376.46 649.07,372.5C650.15,368.54 651.08,365 651.85,361.25C652.62,357.5 652.62,354.38 653.7,350C654.78,345.62 656.79,339.17 658.33,335C659.88,330.83 661.27,327.92 662.96,325C664.66,322.08 666.98,319.17 668.52,317.5C670.06,315.83 671.14,315.52 672.22,315C673.3,314.48 673.92,314.19 675,314.4C676.08,314.61 677.78,315.11 678.7,316.25C679.63,317.39 680.02,318.54 680.56,321.25C681.09,323.96 681.46,327.71 681.93,332.5C682.39,337.29 682.98,344.08 683.33,350C683.69,355.92 683.9,361.42 684.07,368C684.25,374.58 683.93,382.63 684.37,389.5C684.81,396.37 686.04,402.63 686.74,409.2C687.44,415.77 688.09,423.43 688.59,428.9C689.1,434.37 689.17,439.28 689.78,442C690.38,444.72 691.51,443.02 692.22,445.2C692.94,447.38 693.47,455.63 694.07,455.1C694.68,454.57 695.35,449.65 695.85,442C696.36,434.35 696.67,420.13 697.11,409.2C697.56,398.27 698.19,383.12 698.52,376.4C698.85,369.68 698.67,373.72 699.07,368.9C699.48,364.08 700.15,353.57 700.93,347.5C701.7,341.43 702.78,336.77 703.7,332.5C704.63,328.23 705.56,324.23 706.48,321.9C707.41,319.57 708.41,319.23 709.26,318.5C710.1,317.77 710.91,318.13 711.56,317.5C712.2,316.87 712.61,315.64 713.16,314.71C713.7,313.78 714.29,312.84 714.81,311.9C715.34,310.96 715.83,309.69 716.29,309.06C716.75,308.43 717.07,308.88 717.59,308.1C718.12,307.32 718.98,304.97 719.44,304.4C719.91,303.83 720.03,304.81 720.36,304.67C720.7,304.53 721.08,303.85 721.47,303.53C721.86,303.22 722.29,302.91 722.72,302.78C723.16,302.65 723.66,302.89 724.07,302.75C724.49,302.61 724.82,301.99 725.21,301.95C725.6,301.91 725.99,302.44 726.4,302.5C726.81,302.56 727.23,302.52 727.67,302.31C728.12,302.1 728.57,301.44 729.05,301.26C729.53,301.08 730.13,301.4 730.56,301.25C730.98,301.1 731.23,300.36 731.58,300.36C731.93,300.36 732.3,301.14 732.68,301.24C733.05,301.34 733.43,301.17 733.82,300.98C734.21,300.78 734.61,300.16 735.01,300.05C735.41,299.95 735.82,300.46 736.22,300.33C736.62,300.19 737.03,299.37 737.43,299.23C737.84,299.1 738.24,299.47 738.64,299.5C739.04,299.53 739.43,299.51 739.81,299.4C740.2,299.29 740.59,298.84 740.97,298.85C741.36,298.87 741.74,299.56 742.13,299.49C742.52,299.42 742.9,298.66 743.29,298.44C743.67,298.22 744.06,298.09 744.44,298.17C744.83,298.25 745.22,298.88 745.6,298.94C745.99,299 746.37,298.65 746.76,298.52C747.15,298.4 747.53,298.24 747.92,298.17C748.3,298.1 748.68,298.3 749.07,298.1C749.47,297.9 749.86,296.92 750.26,296.96C750.67,297 751.08,298.19 751.5,298.33C751.91,298.47 752.33,297.84 752.75,297.78C753.17,297.73 753.58,297.97 753.99,298.02C754.4,298.07 754.81,298.22 755.2,298.06C755.59,297.91 755.98,297.24 756.34,297.1C756.71,296.95 757.07,297.11 757.4,297.18C757.73,297.25 757.95,297.56 758.33,297.5C758.72,297.44 759.32,296.84 759.71,296.83C760.09,296.82 760.33,297.37 760.65,297.44C760.96,297.5 761.2,297.35 761.59,297.2C761.97,297.04 762.58,296.59 762.96,296.5C763.35,296.41 763.57,296.66 763.9,296.67C764.23,296.68 764.59,296.56 764.95,296.56C765.32,296.55 765.7,296.48 766.1,296.63C766.49,296.78 766.89,297.41 767.3,297.45C767.71,297.49 768.13,297 768.55,296.87C768.96,296.74 769.38,296.55 769.8,296.68C770.21,296.8 770.63,297.49 771.03,297.63C771.44,297.77 771.83,297.34 772.22,297.5C772.62,297.66 773,298.56 773.4,298.59C773.81,298.62 774.22,297.8 774.62,297.67C775.03,297.53 775.45,297.68 775.86,297.77C776.27,297.86 776.68,298.17 777.08,298.21C777.49,298.26 777.89,297.9 778.28,298.02C778.67,298.15 779.06,298.71 779.43,298.96C779.8,299.21 780.16,299.51 780.5,299.52C780.84,299.52 781.1,298.97 781.48,299C781.87,299.03 782.41,299.67 782.81,299.71C783.22,299.75 783.57,299.22 783.93,299.23C784.28,299.23 784.59,299.42 784.93,299.74C785.26,300.06 785.57,301 785.93,301.15C786.28,301.29 786.64,300.72 787.04,300.6C787.43,300.48 787.87,300.41 788.3,300.41C788.74,300.42 789.2,300.77 789.65,300.62C790.1,300.47 790.57,299.47 791.01,299.53C791.46,299.59 791.91,300.9 792.33,300.98C792.74,301.06 793.1,300.13 793.52,300C793.94,299.87 794.41,300.23 794.83,300.19C795.24,300.16 795.63,299.97 796.01,299.81C796.39,299.65 796.74,299.21 797.1,299.25C797.46,299.28 797.75,299.8 798.15,300C798.55,300.2 799.06,300.42 799.49,300.43C799.91,300.44 800.33,300.03 800.72,300.06C801.11,300.09 801.43,300.47 801.85,300.6C802.27,300.73 802.78,300.44 803.24,300.86C803.7,301.28 804.2,302.65 804.63,303.1C805.06,303.55 805.39,303.39 805.8,303.57C806.2,303.76 806.64,304.17 807.06,304.2C807.49,304.23 807.92,304.09 808.33,303.75C808.74,303.41 809.13,302.54 809.53,302.14C809.93,301.74 810.32,301.72 810.73,301.36C811.15,301.01 811.63,300.4 812.04,300C812.44,299.6 812.78,299.12 813.17,298.97C813.57,298.81 814,299.47 814.41,299.07C814.82,298.68 815.24,296.97 815.62,296.6C815.99,296.24 816.25,297 816.67,296.9C817.08,296.8 817.65,296.2 818.11,295.98C818.58,295.76 819.03,295.63 819.44,295.6C819.85,295.57 820.18,296 820.58,295.83C820.97,295.66 821.38,294.72 821.81,294.58C822.24,294.44 822.74,294.88 823.15,295C823.56,295.12 823.88,295.33 824.26,295.33C824.65,295.33 825.06,294.78 825.46,295.02C825.86,295.26 826.28,296.55 826.66,296.76C827.05,296.96 827.37,296.2 827.78,296.25C828.18,296.3 828.67,296.74 829.1,297.06C829.52,297.37 829.92,297.75 830.31,298.14C830.71,298.53 830.74,298.57 831.48,299.4C832.22,300.23 833.81,302.54 834.74,303.1C835.67,303.66 836.27,302.33 837.04,302.75C837.8,303.17 838.56,304.39 839.33,305.6C840.1,306.81 840.97,307.39 841.67,310C842.36,312.61 842.98,316.88 843.52,321.25C844.06,325.62 844.35,332.61 844.89,336.25C845.43,339.89 846.04,343.1 846.74,343.1C847.44,343.1 848.22,340.1 849.07,336.25C849.93,332.4 850.93,325 851.85,320C852.78,315 853.7,309.27 854.63,306.25C855.56,303.23 856.17,303.15 857.41,301.9C858.64,300.65 860.96,298.86 862.04,298.75C863.12,298.64 863.44,299.56 863.89,301.25C864.34,302.94 864.43,306.4 864.74,308.9C865.05,311.4 865.46,311.53 865.74,316.25C866.02,320.97 866.14,330.72 866.44,337.2C866.75,343.68 867.1,351.37 867.56,355.1C868.01,358.83 868.64,361.33 869.19,359.6C869.73,357.87 870.36,350.42 870.81,344.7C871.27,338.98 871.46,329.65 871.93,325.3C872.4,320.95 872.8,319.1 873.63,318.6C874.46,318.1 875.88,320.68 876.89,322.3C877.9,323.92 878.96,323.33 879.7,328.3C880.44,333.27 880.88,341.18 881.33,352.1C881.79,363.02 882.07,392.55 882.44,393.8C882.81,395.05 883.19,370.77 883.56,359.6C883.93,348.43 884.12,331.77 884.67,326.8C885.21,321.83 886.17,324.83 886.81,329.8C887.46,334.77 887.88,354.12 888.52,356.6C889.16,359.08 890.02,348.05 890.67,344.7C891.31,341.35 891.9,336.5 892.37,336.5C892.84,336.5 893.11,338.12 893.48,344.7C893.85,351.28 894.14,374.77 894.59,376C895.05,377.23 895.77,360.3 896.22,352.1C896.68,343.9 896.69,332.88 897.33,326.8C897.98,320.72 899.06,316.58 900.07,315.6C901.09,314.62 902.58,317.3 903.41,320.9C904.23,324.5 904.64,330.68 905.04,337.2C905.43,343.72 905.57,350.37 905.78,360C905.99,369.63 905.96,378 906.3,395C906.63,412 907.32,444.5 907.78,462C908.23,479.5 908.57,488.45 909.04,500C909.51,511.55 910.05,521.22 910.59,531.3C911.14,541.38 911.65,560.5 912.3,560.5C912.94,560.5 913.85,541.38 914.44,531.3C915.04,521.22 915.38,511.55 915.85,500C916.32,488.45 916.77,478.67 917.26,462C917.75,445.33 918.38,412.73 918.81,400C919.25,387.27 919.42,388.6 919.85,385.6C920.28,382.6 920.93,386.78 921.41,382C921.89,377.22 922.3,365.25 922.74,356.9C923.19,348.55 923.63,336.82 924.07,331.9C924.52,326.98 924.85,328.9 925.41,327.4C925.96,325.9 926.85,324.38 927.41,322.9C927.96,321.42 928.37,317 928.74,318.5C929.11,320 929.3,324 929.63,331.9C929.96,339.8 930.44,355.92 930.74,365.9C931.04,375.88 931.07,391.2 931.41,391.8C931.74,392.4 932.2,377.7 932.74,369.5C933.28,361.3 934.01,350.65 934.67,342.6C935.32,334.55 936.11,325.67 936.67,321.2C937.22,316.73 937.44,316.25 938,315.8C938.56,315.35 939.44,318.2 940,318.5C940.56,318.8 940.78,315.37 941.33,317.6C941.89,319.83 942.78,328.47 943.33,331.9C943.89,335.33 944.12,338.2 944.67,338.2C945.21,338.2 946.05,335.63 946.59,331.9C947.14,328.17 947.37,319.53 947.93,315.8C948.48,312.07 949.37,311.73 949.93,309.5C950.48,307.27 950.48,304.33 951.26,302.4C952.04,300.47 953.81,298.54 954.59,297.9C955.38,297.26 955.53,297.93 955.97,298.53C956.42,299.13 956.84,300.88 957.26,301.5C957.68,302.12 958.04,301.97 958.47,302.27C958.9,302.57 959.41,302.81 959.85,303.3C960.29,303.79 960.68,304.57 961.13,305.23C961.58,305.88 962.11,306.35 962.57,307.21C963.02,308.07 963.4,309.21 963.85,310.4C964.3,311.59 964.82,313.01 965.27,314.36C965.71,315.71 966.1,317.46 966.52,318.5C966.94,319.54 967.33,319.85 967.77,320.58C968.22,321.31 968.74,322.2 969.19,322.9C969.63,323.6 970,324.3 970.45,324.8C970.89,325.31 971.41,325.5 971.85,325.93C972.29,326.37 972.68,326.9 973.11,327.4C973.54,327.9 974,328.34 974.44,328.94C974.88,329.54 975.34,330.5 975.78,331C976.22,331.5 976.63,331.73 977.09,331.93C977.55,332.13 978.09,332.2 978.54,332.2C978.99,332.19 979.24,332.55 979.78,331.9C980.32,331.25 981.12,328.75 981.78,328.3C982.43,327.85 983.19,329.26 983.7,329.2C984.21,329.14 984.43,328.39 984.83,327.96C985.24,327.53 985.75,327.15 986.12,326.6C986.49,326.06 986.88,325.02 987.04,324.7" stroke="#000" stroke-width="2.6" fill="none" stroke-linejoin="round" stroke-linecap="round"/>
<line x1="429.6" y1="91.65" x2="429.6" y2="199.25" stroke="#ff0000" stroke-width="2.5" stroke-linecap="round" stroke-dasharray="5.1 8.33"/>
<line x1="429.6" y1="209.05" x2="429.6" y2="441.95" stroke="#ff0000" stroke-width="2.5" stroke-linecap="round" stroke-dasharray="5.1 8.33"/>
<line x1="1126.9" y1="89.75" x2="1126.9" y2="201.95" stroke="#ff0000" stroke-width="2.5" stroke-linecap="round" stroke-dasharray="5.1 8.33"/>
<line x1="1126.9" y1="200.85" x2="1126.9" y2="407.45" stroke="#ff0000" stroke-width="2.5" stroke-linecap="round" stroke-dasharray="5.1 8.33"/>
<path d="M405.3,234L528.3,234" stroke="#000" stroke-width="3.1" fill="none"/>
<path d="M406.8,234V228.6M431.2,234V228.6M455.3,234V228.6M479.1,234V228.6M503.2,234V228.6M526.8,234V228.6" stroke="#000" stroke-width="2.7" fill="none"/>
<path d="M405.3,465.5L528.3,465.5" stroke="#000" stroke-width="3.1" fill="none"/>
<path d="M406.8,465.5V460.3M431.2,465.5V460.3M455.3,465.5V460.3M479.1,465.5V460.3M503.2,465.5V460.3M526.8,465.5V460.3" stroke="#000" stroke-width="2.7" fill="none"/>
<path d="M1096.5,225.4L1215.1,225.4" stroke="#000" stroke-width="3.1" fill="none"/>
<path d="M1098.3,225.4V220.6M1121.6,225.4V220.6M1144.7,225.4V220.6M1168.1,225.4V220.6M1191.3,225.4V220.6M1213.8,225.4V220.6" stroke="#000" stroke-width="2.7" fill="none"/>
<path d="M1096.5,452.7L1215.1,452.7" stroke="#000" stroke-width="3.1" fill="none"/>
<path d="M1098.3,452.7V447.8M1121.6,452.7V447.8M1144.7,452.7V447.8M1168.1,452.7V447.8M1191.3,452.7V447.8M1213.8,452.7V447.8" stroke="#000" stroke-width="2.7" fill="none"/>
<path d="M406.8,172.3C407.83,172.38 410.83,172.45 413,172.8C415.17,173.15 417.8,173.92 419.8,174.4C421.8,174.88 423.35,175.18 425,175.7C426.65,176.22 428.13,176.68 429.7,177.5C431.27,178.32 432.75,179.73 434.4,180.6C436.05,181.47 437.52,182.17 439.6,182.7C441.68,183.23 444.37,183.4 446.9,183.8C449.43,184.2 452.62,184.58 454.8,185.1C456.98,185.62 458.3,185.85 460,186.9C461.7,187.95 463.45,189.82 465,191.4C466.55,192.98 467.87,194.48 469.3,196.4C470.73,198.32 472.17,200.63 473.6,202.9C475.03,205.17 476.48,207.87 477.9,210C479.32,212.13 480.8,214.15 482.1,215.7C483.4,217.25 484.5,218.52 485.7,219.3C486.9,220.08 487.98,220.47 489.3,220.4C490.62,220.33 492.05,219.92 493.6,218.9C495.15,217.88 496.82,216.02 498.6,214.3C500.38,212.58 502.4,210.5 504.3,208.6C506.2,206.7 508.1,204.82 510,202.9C511.9,200.98 513.8,199.02 515.7,197.1C517.6,195.18 519.78,193 521.4,191.4C523.02,189.8 524.73,188.15 525.4,187.5" stroke="#00ff00" stroke-width="3.1" fill="none" stroke-linejoin="round" stroke-linecap="round"/>
<path d="M406.6,389.9C407.18,390.43 408.92,391.67 410.1,393.1C411.28,394.53 412.4,396.5 413.7,398.5C415,400.5 416.5,403.02 417.9,405.1C419.3,407.18 420.82,409.32 422.1,411C423.38,412.68 424.32,414.1 425.6,415.2C426.88,416.3 428.4,417.25 429.8,417.6C431.2,417.95 432.5,417.75 434,417.3C435.5,416.85 437.22,415.75 438.8,414.9C440.38,414.05 441.92,412.85 443.5,412.2C445.08,411.55 446.8,410.9 448.3,411C449.8,411.1 451.12,411.9 452.5,412.8C453.88,413.7 455.32,415.17 456.6,416.4C457.88,417.63 458.73,418.18 460.2,420.2C461.67,422.22 463.67,425.38 465.4,428.5C467.13,431.62 468.85,435.6 470.6,438.9C472.35,442.2 474.33,445.95 475.9,448.3C477.47,450.65 478.7,451.98 480,453C481.3,454.02 482.3,454.48 483.7,454.4C485.1,454.32 486.75,453.87 488.4,452.5C490.05,451.13 491.87,448.63 493.6,446.2C495.33,443.77 497.07,440.85 498.8,437.9C500.53,434.95 502.27,431.45 504,428.5C505.73,425.55 507.28,423.33 509.2,420.2C511.12,417.07 513.58,412.75 515.5,409.7C517.42,406.65 519.4,403.72 520.7,401.9C522,400.08 522.87,399.32 523.3,398.8" stroke="#00ff00" stroke-width="3.1" fill="none" stroke-linejoin="round" stroke-linecap="round"/>
<path d="M1098.1,172.2C1098.7,172.38 1100.5,173.17 1101.7,173.3C1102.9,173.43 1104.18,172.93 1105.3,173C1106.42,173.07 1107.28,173.35 1108.4,173.7C1109.52,174.05 1110.95,174.92 1112,175.1C1113.05,175.28 1113.67,174.65 1114.7,174.8C1115.73,174.95 1117.02,175.43 1118.2,176C1119.38,176.57 1120.6,177.98 1121.8,178.2C1123,178.42 1124.2,176.93 1125.4,177.3C1126.6,177.67 1127.73,180.1 1129,180.4C1130.27,180.7 1131.73,178.77 1133,179.1C1134.27,179.43 1135.48,181.95 1136.6,182.4C1137.72,182.85 1138.73,181.75 1139.7,181.8C1140.67,181.85 1141.28,181.7 1142.4,182.7C1143.52,183.7 1145.37,186.8 1146.4,187.8C1147.43,188.8 1147.63,188.03 1148.6,188.7C1149.57,189.37 1151.13,190.73 1152.2,191.8C1153.27,192.87 1153.87,193.55 1155,195.1C1156.13,196.65 1157.67,199.08 1159,201.1C1160.33,203.12 1161.65,205.07 1163,207.2C1164.35,209.33 1165.87,212.33 1167.1,213.9C1168.33,215.47 1169.18,216.38 1170.4,216.6C1171.62,216.82 1173.05,216.1 1174.4,215.2C1175.75,214.3 1177.15,212.77 1178.5,211.2C1179.85,209.63 1181.17,207.92 1182.5,205.8C1183.83,203.68 1185.05,200.83 1186.5,198.5C1187.95,196.17 1189.75,193.53 1191.2,191.8C1192.65,190.07 1193.97,189.05 1195.2,188.1C1196.43,187.15 1197.6,186.27 1198.6,186.1C1199.6,185.93 1200.2,187.38 1201.2,187.1C1202.2,186.82 1203.37,185.08 1204.6,184.4C1205.83,183.72 1207.27,182.83 1208.6,183C1209.93,183.17 1211.93,185 1212.6,185.4" stroke="#00ff00" stroke-width="3.1" fill="none" stroke-linejoin="round" stroke-linecap="round"/>
<path d="M1098.6,380.7C1099.2,380.52 1101.08,379.45 1102.2,379.6C1103.32,379.75 1104.48,381.27 1105.3,381.6C1106.12,381.93 1106.43,381.27 1107.1,381.6C1107.77,381.93 1108.48,383.42 1109.3,383.6C1110.12,383.78 1111.1,382.55 1112,382.7C1112.9,382.85 1113.88,384.32 1114.7,384.5C1115.52,384.68 1116.08,383.57 1116.9,383.8C1117.72,384.03 1118.7,385.7 1119.6,385.9C1120.5,386.1 1121.55,384.85 1122.3,385C1123.05,385.15 1123.28,385.77 1124.1,386.8C1124.92,387.83 1126.08,390.92 1127.2,391.2C1128.32,391.48 1129.62,388.72 1130.8,388.5C1131.98,388.28 1133.12,390.05 1134.3,389.9C1135.48,389.75 1136.7,387.72 1137.9,387.6C1139.1,387.48 1140.45,388.45 1141.5,389.2C1142.55,389.95 1143.23,391.47 1144.2,392.1C1145.17,392.73 1146.33,392.42 1147.3,393C1148.27,393.58 1149.03,394.47 1150,395.6C1150.97,396.73 1152.23,398.05 1153.1,399.8C1153.97,401.55 1154.33,403.67 1155.2,406.1C1156.07,408.53 1157.25,411.45 1158.3,414.4C1159.35,417.35 1160.53,420.83 1161.5,423.8C1162.47,426.77 1163.42,429.85 1164.1,432.2C1164.78,434.55 1164.82,436.87 1165.6,437.9C1166.38,438.93 1167.75,437.7 1168.8,438.4C1169.85,439.1 1170.68,441.92 1171.9,442.1C1173.12,442.28 1174.7,440.98 1176.1,439.5C1177.5,438.02 1178.92,435.82 1180.3,433.2C1181.68,430.58 1183.02,427.1 1184.4,423.8C1185.78,420.5 1187.03,416.88 1188.6,413.4C1190.17,409.92 1192.23,405.68 1193.8,402.9C1195.37,400.12 1196.6,398.25 1198,396.7C1199.4,395.15 1200.9,394.9 1202.2,393.6C1203.5,392.3 1204.77,389.33 1205.8,388.9C1206.83,388.47 1207.62,391.1 1208.4,391C1209.18,390.9 1209.72,389.08 1210.5,388.3C1211.28,387.52 1212.67,386.63 1213.1,386.3" stroke="#00ff00" stroke-width="3.1" fill="none" stroke-linejoin="round" stroke-linecap="round"/>
<line x1="478.9" y1="85.2" x2="445" y2="92.2" stroke="#000" stroke-width="2" stroke-linecap="round"/>
<polygon points="439.6,93.3 445.6,88.9 448.4,95.5" fill="#000"/>
<line x1="1180.3" y1="85.2" x2="1141" y2="90.5" stroke="#000" stroke-width="2" stroke-linecap="round"/>
<polygon points="1134.8,91.2 1142.2,87.6 1143.2,94" fill="#000"/>
<text transform="translate(0.74,29.8) scale(1.0579,1.0509)" font-size="40" font-family="'Liberation Sans', Arial, Helvetica, sans-serif" font-weight="bold" fill="#000">A</text>
<text transform="translate(735.2,29.5) scale(0.9814,1.0455)" font-size="40" font-family="'Liberation Sans', Arial, Helvetica, sans-serif" font-weight="bold" fill="#000">B</text>
<text transform="translate(33.13,76.54) scale(1.0159,1.0533)" font-size="32" font-family="'Liberation Sans', Arial, Helvetica, sans-serif" font-weight="bold" fill="#000">GO</text>
<text transform="translate(32.94,285.74) scale(1.0085,1.0533)" font-size="32" font-family="'Liberation Sans', Arial, Helvetica, sans-serif" font-weight="bold" fill="#000">GO-COOH</text>
<text transform="translate(752.79,87.63) scale(1.0245,1.0711)" font-size="32" font-family="'Liberation Sans', Arial, Helvetica, sans-serif" font-weight="bold" fill="#000">PEG</text>
<text transform="translate(741.03,279.84) scale(1.018,1.0533)" font-size="32" font-family="'Liberation Sans', Arial, Helvetica, sans-serif" font-weight="bold" fill="#000">GO-PEG</text>
<text transform="translate(481.7,90.24) scale(0.9996,1.0444)" font-size="32" font-family="'Liberation Sans', Arial, Helvetica, sans-serif" font-weight="bold" fill="#000">1720 cm<tspan x="127.1" y="-8.06" font-size="23.12">-</tspan><tspan x="133.58" y="-8.75" font-size="21.36">1</tspan></text>
<text transform="translate(1182.5,90.24) scale(1.0012,1.0444)" font-size="32" font-family="'Liberation Sans', Arial, Helvetica, sans-serif" font-weight="bold" fill="#000">1735 cm<tspan x="126.69" y="-8.15" font-size="23.12">-</tspan><tspan x="133.53" y="-8.94" font-size="21.08">1</tspan></text>
<text transform="translate(0.19,622.55) scale(1.008,1.05)" font-size="32" font-family="'Liberation Sans', Arial, Helvetica, sans-serif" font-weight="bold" fill="#000">4000</text>
<text transform="translate(173.32,622.3) scale(1.008,1.05)" font-size="32" font-family="'Liberation Sans', Arial, Helvetica, sans-serif" font-weight="bold" fill="#000">3000</text>
<text transform="translate(347.49,622.3) scale(1.008,1.05)" font-size="32" font-family="'Liberation Sans', Arial, Helvetica, sans-serif" font-weight="bold" fill="#000">2000</text>
<text transform="translate(519.09,621.75) scale(1.008,1.05)" font-size="32" font-family="'Liberation Sans', Arial, Helvetica, sans-serif" font-weight="bold" fill="#000">1000</text>
<text transform="translate(716.49,622.55) scale(1.008,1.05)" font-size="32" font-family="'Liberation Sans', Arial, Helvetica, sans-serif" font-weight="bold" fill="#000">4000</text>
<text transform="translate(881.97,622.2) scale(1.008,1.05)" font-size="32" font-family="'Liberation Sans', Arial, Helvetica, sans-serif" font-weight="bold" fill="#000">3000</text>
<text transform="translate(1048.14,622.2) scale(1.008,1.05)" font-size="32" font-family="'Liberation Sans', Arial, Helvetica, sans-serif" font-weight="bold" fill="#000">2000</text>
<text transform="translate(1215.64,621.75) scale(1.008,1.05)" font-size="32" font-family="'Liberation Sans', Arial, Helvetica, sans-serif" font-weight="bold" fill="#000">1000</text>
<text transform="translate(350.3,266.05) scale(1.005,1.036)" font-size="32" font-family="'Liberation Sans', Arial, Helvetica, sans-serif" font-weight="bold" fill="#000">1800</text>
<text transform="translate(493.3,266.05) scale(1.005,1.036)" font-size="32" font-family="'Liberation Sans', Arial, Helvetica, sans-serif" font-weight="bold" fill="#000">1550</text>
<text transform="translate(350.55,497.9) scale(1.005,1.036)" font-size="32" font-family="'Liberation Sans', Arial, Helvetica, sans-serif" font-weight="bold" fill="#000">1800</text>
<text transform="translate(493.3,497.9) scale(1.005,1.036)" font-size="32" font-family="'Liberation Sans', Arial, Helvetica, sans-serif" font-weight="bold" fill="#000">1550</text>
<text transform="translate(1041.45,260) scale(1.005,1.036)" font-size="32" font-family="'Liberation Sans', Arial, Helvetica, sans-serif" font-weight="bold" fill="#000">1800</text>
<text transform="translate(1145.95,260) scale(1.005,1.036)" font-size="32" font-family="'Liberation Sans', Arial, Helvetica, sans-serif" font-weight="bold" fill="#000">1550</text>
<text transform="translate(1048.65,489.45) scale(1.005,1.036)" font-size="32" font-family="'Liberation Sans', Arial, Helvetica, sans-serif" font-weight="bold" fill="#000">1800</text>
<text transform="translate(1145.95,489.45) scale(1.005,1.036)" font-size="32" font-family="'Liberation Sans', Arial, Helvetica, sans-serif" font-weight="bold" fill="#000">1550</text>
<text transform="translate(189.9,662.27) scale(1.0038,1.005)" font-size="32" font-family="'Liberation Sans', Arial, Helvetica, sans-serif" font-weight="bold" fill="#000">Wavenumber (cm<tspan x="265.91" y="-9.33" font-size="22.57">-</tspan><tspan x="272.31" y="-9.32" font-size="22.05">1</tspan><tspan x="285.27" y="0.23" font-size="32.32">)</tspan></text>
<text transform="translate(875.5,662.27) scale(1.0038,1.005)" font-size="32" font-family="'Liberation Sans', Arial, Helvetica, sans-serif" font-weight="bold" fill="#000">Wavenumber (cm<tspan x="265.91" y="-9.33" font-size="22.57">-</tspan><tspan x="272.31" y="-9.32" font-size="22.05">1</tspan><tspan x="285.27" y="0.23" font-size="32.32">)</tspan></text>
</svg></body></html>
